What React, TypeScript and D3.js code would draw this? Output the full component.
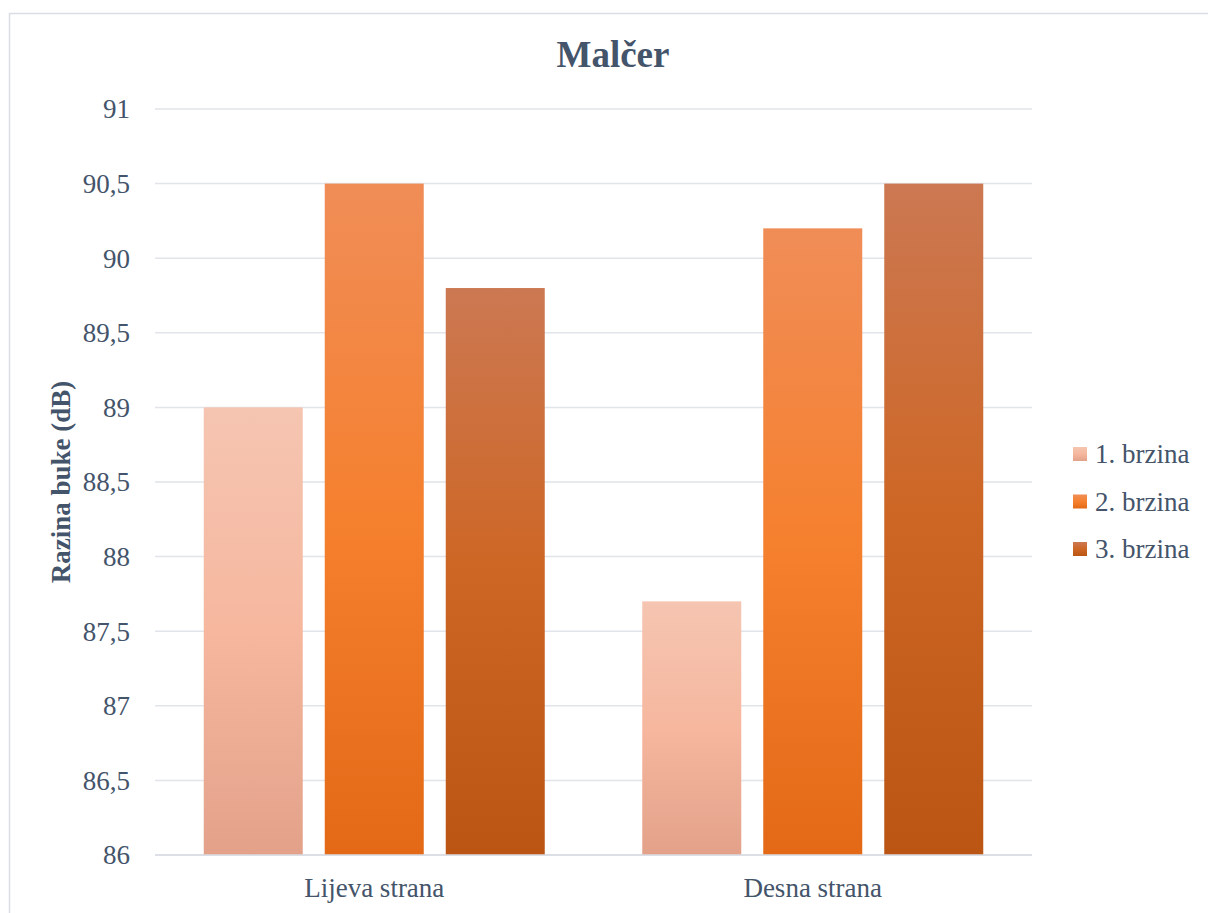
import React from "react";
import * as d3 from "d3";

const categories = ["Lijeva strana", "Desna strana"];
const seriesNames = ["1. brzina", "2. brzina", "3. brzina"];
const brzina1 = [89.0, 87.7];
const brzina2 = [90.5, 90.2];
const brzina3 = [89.8, 90.5];
const seriesValues = [brzina1, brzina2, brzina3];
const yTicks = [86, 86.5, 87, 87.5, 88, 88.5, 89, 89.5, 90, 90.5, 91];

const gradients = [
  ["#f5c5b1", "#f6b79e", "#e3a18a"],
  ["#f08d57", "#f5802e", "#e36916"],
  ["#cc7852", "#cd6624", "#ba5513"],
];

const W = 1208;
const H = 913;
const font = "'Liberation Serif', 'Times New Roman', serif";
const textColor = "#44546a";

export default function App() {
  const left = 155;
  const right = 1032;
  const top = 109;
  const bottom = 855;
  const y = d3.scaleLinear().domain([86, 91]).range([bottom, top]);
  const x0 = d3.scaleBand().domain(categories).range([left, right]).paddingInner(0).paddingOuter(0);
  const barW = 99;
  const gap = 22;
  const groupW = barW * 3 + gap * 2;
  const fmt = (v: number) => String(v).replace(".", ",");

  return (
    <svg width={W} height={H} style={{ position: "absolute", left: 0, top: 0 }}>
      <defs>
        {gradients.map((g, i) => (
          <linearGradient key={i} id={`grad${i}`} x1="0" y1="0" x2="0" y2="1">
            <stop offset="0" stopColor={g[0]} />
            <stop offset="0.5" stopColor={g[1]} />
            <stop offset="1" stopColor={g[2]} />
          </linearGradient>
        ))}
      </defs>
      <rect x={0} y={0} width={W} height={H} fill="#fff" />
      <rect x={9.5} y={13.5} width={1220} height={920} fill="#fff" stroke="#d9dde3" strokeWidth={1.5} />
      <text x={613} y={67} textAnchor="middle" fontFamily={font} fontWeight="bold" fontSize={37} fill={textColor}>
        Malčer
      </text>
      {yTicks.map((t) => (
        <g key={t}>
          <line x1={left} x2={right} y1={y(t)} y2={y(t)} stroke="#e1e4e9" strokeWidth={1.5} />
          <text x={130} y={y(t)} dy="0.35em" textAnchor="end" fontFamily={font} fontSize={27} fill={textColor}>
            {fmt(t)}
          </text>
        </g>
      ))}
      {categories.map((c, ci) => {
        const cx = (x0(c) as number) + x0.bandwidth() / 2;
        const start = cx - groupW / 2;
        return (
          <g key={c}>
            {seriesValues.map((vals, si) => (
              <rect
                key={si}
                x={start + si * (barW + gap)}
                y={y(vals[ci])}
                width={barW}
                height={y(86) - y(vals[ci])}
                fill={`url(#grad${si})`}
              />
            ))}
            <text x={cx} y={897} textAnchor="middle" fontFamily={font} fontSize={27} fill={textColor}>
              {c}
            </text>
          </g>
        );
      })}
      <line x1={left} x2={right} y1={bottom} y2={bottom} stroke="#d9dde3" strokeWidth={1.5} />
      <text
        transform={`translate(70, ${(top + bottom) / 2}) rotate(-90)`}
        textAnchor="middle"
        fontFamily={font}
        fontWeight="bold"
        fontSize={27}
        fill={textColor}
      >
        Razina buke (dB)
      </text>
      {seriesNames.map((s, i) => (
        <g key={s} transform={`translate(1073, ${454 + i * 47.5})`}>
          <rect x={0} y={-7} width={14} height={14} fill={`url(#grad${i})`} />
          <text x={22} y={0} dy="0.35em" fontFamily={font} fontSize={27} fill={textColor}>
            {s}
          </text>
        </g>
      ))}
    </svg>
  );
}
